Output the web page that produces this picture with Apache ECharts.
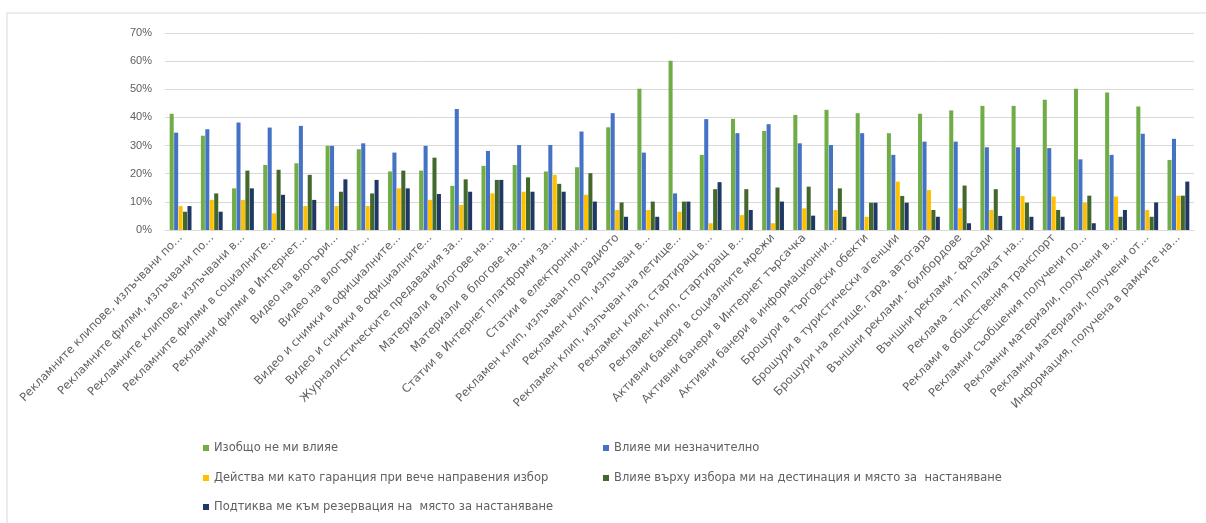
<!DOCTYPE html>
<html>
<head>
<meta charset="utf-8">
<script src="https://cdn.jsdelivr.net/npm/echarts@6/dist/echarts.min.js"></script>
<style>
    html, body {margin: 0; padding: 0; background: #fff;}
    #chart {width: 1206px; height: 523px;}
</style>
</head>
<body>
<div id="chart"></div>
<script>
// категории (съкратени както в оригинала)
const categories = [
    'Рекламните клипове, излъчвани по...',
    'Рекламните филми, излъчвани по...',
    'Рекламните клипове, излъчвани в...',
    'Рекламните филми в социалните...',
    'Рекламни филми в Интернет...',
    'Видео на влогъри...',
    'Видео на влогъри-...',
    'Видео и снимки в официалните...',
    'Видео и снимки в официалните...',
    'Журналистическите предавания за...',
    'Материали в блогове на...',
    'Материали в блогове на...',
    'Статии в Интернет платформи за...',
    'Статии в електронни...',
    'Рекламен клип, излъчван по радиото',
    'Рекламен клип, излъчван в...',
    'Рекламен клип, излъчван на летище...',
    'Рекламен клип, стартиращ в...',
    'Рекламен клип, стартиращ в...',
    'Активни банери в социалните мрежи',
    'Активни банери в Интернет търсачка',
    'Активни банери в информационни...',
    'Брошури в търговски обекти',
    'Брошури в туристически агенции',
    'Брошури на летище, гара, автогара',
    'Външни реклами - билбордове',
    'Външни реклами - фасади',
    'Реклама – тип плакат на...',
    'Реклами в обществения транспорт',
    'Рекламни съобщения получени по...',
    'Рекламни материали, получени в...',
    'Рекламни материали, получени от...',
    'Информация, получена в рамките на...'
];

const seriesNames = [
    'Изобщо не ми влияе',
    'Влияе ми незначително',
    'Действа ми като гаранция при вече направения избор',
    'Влияе върху избора ми на дестинация и място за  настаняване',
    'Подтиква ме към резервация на  място за настаняване'
];

const noInfluence = [41.3, 33.5, 14.8, 23.1, 23.7, 29.9, 28.7, 20.8, 21.1, 15.7, 22.8, 23.1, 20.8, 22.3, 36.5, 50.2, 60.1,
    26.7, 39.5, 35.2, 40.9, 42.7, 41.5, 34.4, 41.3, 42.5, 44.1, 44.1, 46.3, 50.2, 48.9, 43.9, 24.9];
const slightInfluence = [34.6, 35.8, 38.2, 36.4, 37.0, 29.9, 30.8, 27.5, 29.9, 43.0, 28.1, 30.2, 30.2, 35.0, 41.5, 27.5, 13.0,
    39.4, 34.4, 37.6, 30.8, 30.2, 34.4, 26.7, 31.4, 31.4, 29.4, 29.4, 29.1, 25.1, 26.7, 34.2, 32.4];
const guarantee = [8.5, 10.7, 10.7, 5.9, 8.5, 8.5, 8.5, 14.8, 10.7, 8.9, 13.0, 13.6, 19.6, 12.5, 7.1, 7.1, 6.5,
    2.4, 5.3, 2.4, 7.7, 7.1, 4.7, 17.2, 14.2, 7.7, 7.1, 12.1, 11.9, 9.7, 11.9, 7.1, 12.2];
const choice = [6.5, 13.0, 21.1, 21.4, 19.6, 13.6, 13.0, 21.1, 25.7, 18.0, 17.8, 18.7, 16.4, 20.2, 9.8, 10.1, 10.1,
    14.5, 14.5, 15.1, 15.4, 14.8, 9.7, 12.1, 7.1, 15.8, 14.5, 9.7, 7.1, 12.2, 4.7, 4.7, 12.2];
const booking = [8.5, 6.5, 14.8, 12.5, 10.7, 18.0, 17.8, 14.8, 12.8, 13.6, 17.8, 13.6, 13.6, 10.1, 4.7, 4.7, 10.1,
    17.0, 7.1, 10.1, 5.1, 4.7, 9.7, 9.7, 4.7, 2.4, 5.0, 4.7, 4.7, 2.4, 7.1, 9.8, 17.2];

const yTicks = [0, 10, 20, 30, 40, 50, 60, 70];

const colors = ['#70AD47', '#4472C4', '#FFC000', '#43682B', '#203864'];
const allData = [noInfluence, slightInfluence, guarantee, choice, booking];

const textColor = '#606060';
const fontFamily = '"Liberation Sans", Arial, sans-serif';
const wideFont = '"DejaVu Sans", sans-serif';

const chart = echarts.init(document.getElementById('chart'), null, {renderer: 'canvas'});

// легенда - всеки елемент отделно, за да се пази подредбата в две колони
const legendPos = [
    {left: 203, top: 442},
    {left: 603, top: 442},
    {left: 203, top: 472},
    {left: 603, top: 472},
    {left: 203, top: 501}
];

const option = {
    backgroundColor: '#fff',
    animation: false,
    color: colors,
    textStyle: {fontFamily: fontFamily},
    graphic: [{
        type: 'rect',
        shape: {x: 7, y: 13, width: 1210, height: 530},
        style: {fill: 'none', stroke: '#d9d9d9', lineWidth: 1},
        silent: true
    }],
    legend: seriesNames.map((n, i) => ({
        data: [n],
        left: legendPos[i].left,
        top: legendPos[i].top,
        icon: 'rect',
        itemWidth: 6,
        itemHeight: 6,
        itemGap: 4,
        padding: 0,
        textStyle: {color: textColor, fontSize: 11.5, fontFamily: wideFont}
    })),
    grid: {
        left: 165,
        right: 12,
        top: 33,
        bottom: 293
    },
    xAxis: {
        type: 'category',
        data: categories,
        axisLine: {lineStyle: {color: '#d9d9d9'}},
        axisTick: {show: false},
        axisLabel: {
            interval: 0,
            rotate: 46,
            color: textColor,
            fontSize: 11.5,
            margin: 6,
            fontFamily: wideFont
        }
    },
    yAxis: {
        type: 'value',
        min: 0,
        max: yTicks[yTicks.length - 1],
        interval: yTicks[1] - yTicks[0],
        axisLine: {show: false},
        axisTick: {show: false},
        splitLine: {lineStyle: {color: '#d9d9d9'}},
        axisLabel: {
            formatter: '{value}%',
            color: textColor,
            fontSize: 11,
            margin: 13,
            fontFamily: fontFamily
        }
    },
    series: seriesNames.map((n, i) => ({
        name: n,
        type: 'bar',
        data: allData[i],
        barGap: '10%',
        barCategoryGap: '30%',
        itemStyle: {color: colors[i]}
    }))
};

chart.setOption(option);
</script>
</body>
</html>
